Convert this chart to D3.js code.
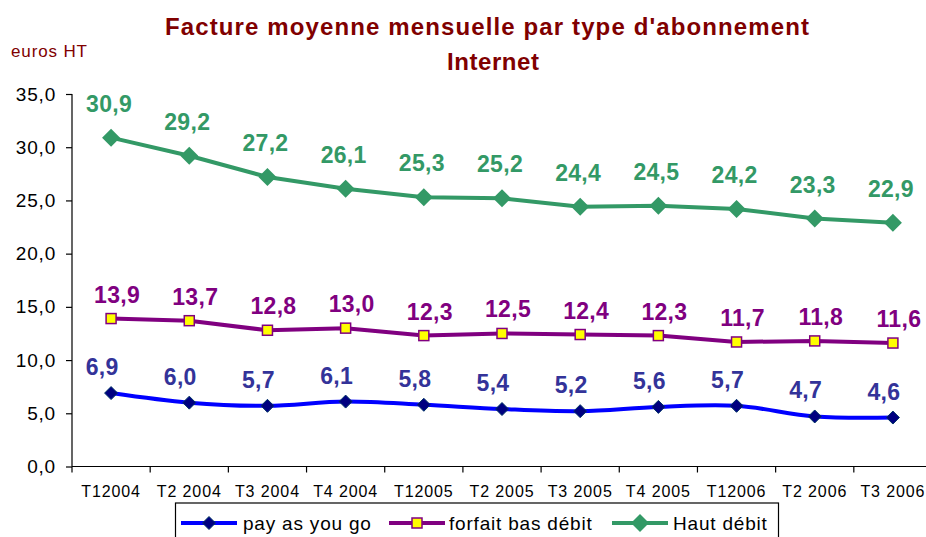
<!DOCTYPE html>
<html><head><meta charset="utf-8">
<script src="https://cdn.jsdelivr.net/npm/d3@7"></script>
<style>
html,body{margin:0;padding:0;background:#fff;}
svg{display:block;font-family:"Liberation Sans",Arial,sans-serif;}
</style></head>
<body>
<svg id="c" width="926" height="537"></svg>
<script>
const categories = ["T12004","T2 2004","T3 2004","T4 2004","T12005","T2 2005","T3 2005","T4 2005","T12006","T2 2006","T3 2006"];
const payAsYouGo = [6.9,6.0,5.7,6.1,5.8,5.4,5.2,5.6,5.7,4.7,4.6];
const forfaitBasDebit = [13.9,13.7,12.8,13.0,12.3,12.5,12.4,12.3,11.7,11.8,11.6];
const hautDebit = [30.9,29.2,27.2,26.1,25.3,25.2,24.4,24.5,24.2,23.3,22.9];
const yTicks = [0,5,10,15,20,25,30,35];
const seriesNames = ["pay as you go","forfait bas débit","Haut débit"];
const titleLines = ["Facture moyenne mensuelle par type d'abonnement","Internet"];
const unitLabel = "euros HT";

const svg = d3.select("#c");
const x = d3.scaleBand().domain(categories).range([72, 932]);
const y = d3.scaleLinear().domain([0, 35]).range([466.5, 94]);
const fmt = v => d3.format(".1f")(v).replace(".", ",");

// title
svg.append("text").attr("x",165).attr("y",35).attr("textLength",644).attr("lengthAdjust","spacing")
  .attr("font-size",24).attr("font-weight","bold").attr("fill","#800000").text(titleLines[0]);
svg.append("text").attr("x",447).attr("y",70).attr("textLength",92).attr("lengthAdjust","spacing")
  .attr("font-size",24).attr("font-weight","bold").attr("fill","#800000").text(titleLines[1]);
svg.append("text").attr("x",11).attr("y",57).attr("textLength",76).attr("lengthAdjust","spacing")
  .attr("font-size",17).attr("fill","#800000").text(unitLabel);

// axes
const yAxis = svg.append("g").attr("transform","translate(72,0)")
  .call(d3.axisLeft(y).tickValues(yTicks).tickFormat(fmt).tickSize(6).tickPadding(8));
yAxis.select(".domain").attr("stroke","#000").attr("stroke-width",1.2).attr("d","M-6,94.5H0V466.5");
yAxis.selectAll(".tick line").attr("stroke","#000").attr("stroke-width",1.2);
yAxis.selectAll(".tick text").attr("font-size",19).attr("font-family","'Liberation Sans',Arial,sans-serif")
  .attr("fill","#000").attr("letter-spacing",0.8).attr("dx",-2);

const xAxis = svg.append("g").attr("transform","translate(0,466.5)");
xAxis.append("line").attr("x1",72).attr("x2",932).attr("stroke","#000").attr("stroke-width",1.2);
xAxis.selectAll("line.t").data(categories.concat(["__end"])).join("line").attr("class","t")
  .attr("x1",(d,i)=>72+i*x.bandwidth()).attr("x2",(d,i)=>72+i*x.bandwidth())
  .attr("y1",0).attr("y2",6).attr("stroke","#000").attr("stroke-width",1.2);
xAxis.selectAll("text").data(categories).join("text")
  .attr("x",d=>x(d)+x.bandwidth()/2).attr("y",30).attr("text-anchor","middle")
  .attr("font-size",16).attr("letter-spacing",0.9).attr("fill","#000").text(d=>d);

const cx = (d,i) => x(categories[i]) + x.bandwidth()/2;

const series = [
  {name:seriesNames[0], values:payAsYouGo, line:"#0000FF", labelColor:"#333399", curve:d3.curveCatmullRom.alpha(0.5), marker:"bluediamond", dy:18, dx:-9},
  {name:seriesNames[1], values:forfaitBasDebit, line:"#800080", labelColor:"#800080", curve:d3.curveLinear, marker:"square", dy:16, dx:6},
  {name:seriesNames[2], values:hautDebit, line:"#339966", labelColor:"#339966", curve:d3.curveLinear, marker:"greendiamond", dy:26, dx:-2}
];

function drawMarker(g, type, px, py){
  if(type==="bluediamond"){
    g.append("path").attr("d",`M${px},${py-6.5}L${px+6.5},${py}L${px},${py+6.5}L${px-6.5},${py}Z`)
      .attr("fill","#000080").attr("stroke","#003366").attr("stroke-width",1);
  } else if(type==="greendiamond"){
    g.append("path").attr("d",`M${px},${py-9}L${px+9},${py}L${px},${py+9}L${px-9},${py}Z`)
      .attr("fill","#339966");
  } else {
    g.append("rect").attr("x",px-5).attr("y",py-5).attr("width",10).attr("height",10)
      .attr("fill","#FFFF00").attr("stroke","#800080").attr("stroke-width",1.5);
  }
}

series.forEach(s=>{
  const line = d3.line().x((d,i)=>cx(d,i)).y(d=>y(d)).curve(s.curve);
  svg.append("path").datum(s.values).attr("d",line).attr("fill","none")
    .attr("stroke",s.line).attr("stroke-width",4).attr("stroke-linejoin","round");
  const g = svg.append("g");
  s.values.forEach((v,i)=>drawMarker(g, s.marker, cx(v,i), y(v)));
  svg.append("g").selectAll("text").data(s.values).join("text")
    .attr("x",(d,i)=>cx(d,i)+s.dx).attr("y",d=>y(d)-s.dy).attr("text-anchor","middle")
    .attr("font-size",23).attr("font-weight","bold").attr("letter-spacing",0.3)
    .attr("fill",s.labelColor).text(d=>fmt(d));
});

// legend
const lg = svg.append("g");
lg.append("rect").attr("x",175.5).attr("y",503).attr("width",603).attr("height",45)
  .attr("fill","#fff").attr("stroke","#000").attr("stroke-width",1.2);
const legendItems = [
  {s:series[0], x0:181, text:243},
  {s:series[1], x0:389, text:449},
  {s:series[2], x0:612, text:673}
];
legendItems.forEach(it=>{
  const ly = 523;
  lg.append("line").attr("x1",it.x0).attr("x2",it.x0+56).attr("y1",ly).attr("y2",ly)
    .attr("stroke",it.s.line).attr("stroke-width",4);
  drawMarker(lg, it.s.marker, it.x0+28, ly);
  lg.append("text").attr("x",it.text).attr("y",529.5).attr("font-size",19).attr("letter-spacing",0.8)
    .attr("fill","#000").text(it.s.name);
});
</script>
</body></html>
